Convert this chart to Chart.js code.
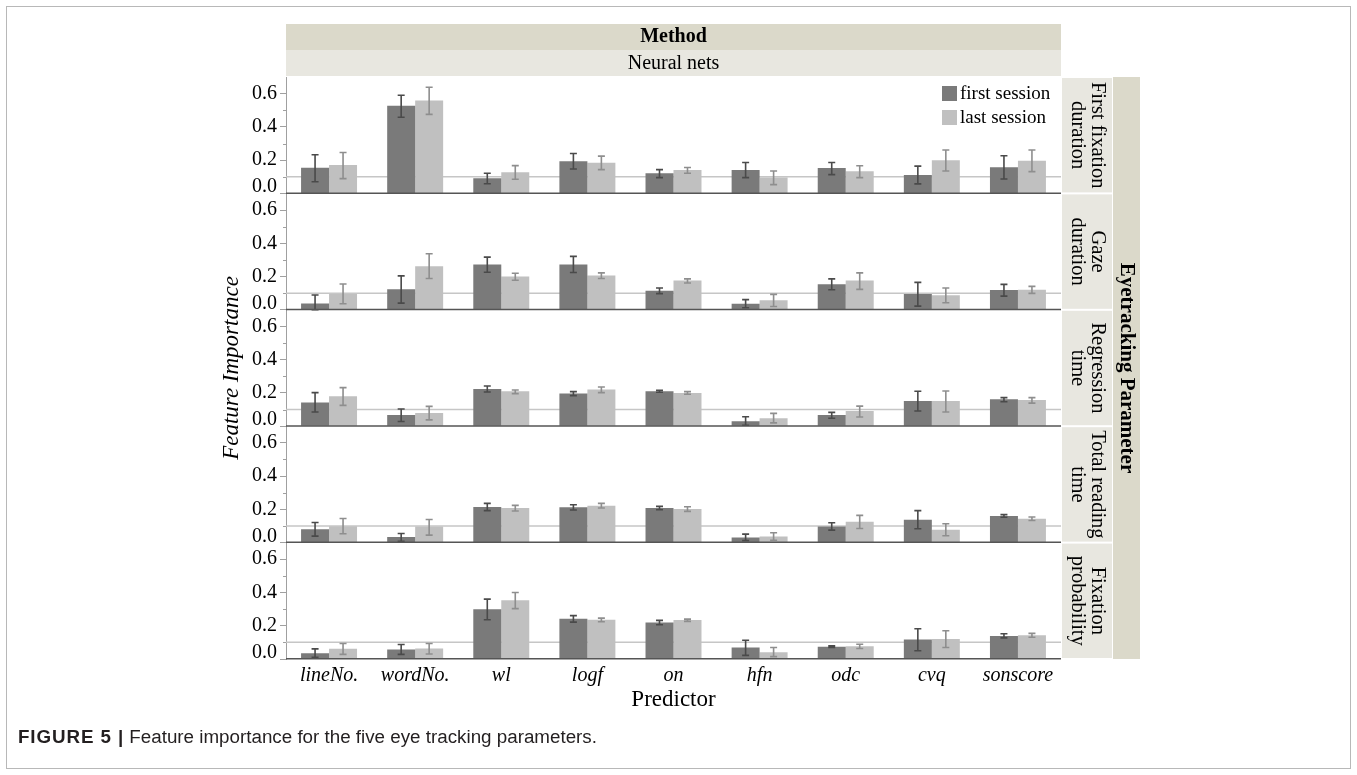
<!DOCTYPE html>
<html>
<head>
<meta charset="utf-8">
<script src="https://cdn.jsdelivr.net/npm/chart.js@4.4.1/dist/chart.umd.min.js"></script>
<style>
  html, body { margin: 0; padding: 0; background: #ffffff; }
  #wrap { position: relative; width: 1357px; height: 775px; overflow: hidden; }
  #frame { position: absolute; left: 6px; top: 6px; width: 1345px; height: 763px; border: 1px solid #b8b8b8; box-sizing: border-box; }
  #c { position: absolute; left: 0; top: 0; }
  #caption { position: absolute; left: 18px; top: 726px; font-family: "Liberation Sans", Arial, sans-serif; font-size: 18.8px; color: #231f20; white-space: nowrap; }
  #caption b { font-weight: bold; letter-spacing: 0.9px; }
</style>
</head>
<body>
<div id="wrap">
  <div id="frame"></div>
  <canvas id="c" width="1357" height="775"></canvas>
  <div id="caption"><b>FIGURE 5 |</b> Feature importance for the five eye tracking parameters.</div>
</div>
<script>
// Predictors on the x axis
const predictors = ['lineNo.', 'wordNo.', 'wl', 'logf', 'on', 'hfn', 'odc', 'cvq', 'sonscore'];
const sessions = ['first session', 'last session'];
const methodTitle = 'Method';
const methodName = 'Neural nets';
const facetTitle = 'Eyetracking Parameter';
const parameterStrips = [
  ['First fixation', 'duration'],
  ['Gaze', 'duration'],
  ['Regression', 'time'],
  ['Total reading', 'time'],
  ['Fixation', 'probability']
];
const yTicks = [0, 0.2, 0.4, 0.6];
const yMinorTicks = [0.1, 0.3, 0.5];
const yMax = 0.7;
const referenceLevel = 0.1;

// First fixation duration
const ffdFirst = [0.155, 0.527, 0.091, 0.194, 0.121, 0.141, 0.152, 0.111, 0.158];
const ffdFirstCI = [[0.070, 0.232], [0.458, 0.590], [0.058, 0.121], [0.147, 0.240], [0.095, 0.143], [0.095, 0.186], [0.113, 0.186], [0.057, 0.164], [0.087, 0.226]];
const ffdLast = [0.171, 0.559, 0.127, 0.184, 0.141, 0.095, 0.133, 0.200, 0.196];
const ffdLastCI = [[0.089, 0.246], [0.475, 0.638], [0.085, 0.167], [0.143, 0.224], [0.121, 0.156], [0.053, 0.135], [0.095, 0.166], [0.135, 0.261], [0.131, 0.261]];

// Gaze duration
const gdFirst = [0.038, 0.123, 0.273, 0.273, 0.115, 0.036, 0.153, 0.095, 0.119];
const gdFirstCI = [[0.000, 0.089], [0.040, 0.204], [0.226, 0.317], [0.224, 0.321], [0.097, 0.131], [0.012, 0.061], [0.121, 0.186], [0.022, 0.165], [0.082, 0.153]];
const gdLast = [0.095, 0.262, 0.200, 0.206, 0.176, 0.058, 0.176, 0.087, 0.121];
const gdLastCI = [[0.036, 0.155], [0.188, 0.337], [0.178, 0.220], [0.188, 0.222], [0.161, 0.186], [0.020, 0.093], [0.123, 0.222], [0.042, 0.131], [0.099, 0.141]];

// Regression time
const rtFirst = [0.143, 0.067, 0.224, 0.196, 0.210, 0.030, 0.067, 0.152, 0.162];
const rtFirstCI = [[0.085, 0.202], [0.028, 0.103], [0.206, 0.242], [0.184, 0.208], [0.204, 0.216], [0.006, 0.057], [0.048, 0.083], [0.091, 0.210], [0.147, 0.172]];
const rtLast = [0.180, 0.079, 0.210, 0.220, 0.200, 0.048, 0.091, 0.152, 0.158];
const rtLastCI = [[0.125, 0.232], [0.038, 0.119], [0.196, 0.218], [0.202, 0.236], [0.192, 0.208], [0.020, 0.077], [0.055, 0.121], [0.085, 0.212], [0.139, 0.172]];

// Total reading time
const trtFirst = [0.081, 0.033, 0.214, 0.212, 0.208, 0.030, 0.097, 0.138, 0.160];
const trtFirstCI = [[0.039, 0.121], [0.008, 0.055], [0.192, 0.236], [0.196, 0.228], [0.198, 0.218], [0.012, 0.051], [0.075, 0.119], [0.083, 0.192], [0.152, 0.168]];
const trtLast = [0.099, 0.097, 0.208, 0.222, 0.202, 0.036, 0.125, 0.077, 0.144];
const trtLastCI = [[0.053, 0.145], [0.045, 0.139], [0.190, 0.224], [0.208, 0.236], [0.188, 0.216], [0.014, 0.059], [0.085, 0.164], [0.041, 0.113], [0.133, 0.154]];

// Fixation probability
const fpFirst = [0.034, 0.057, 0.299, 0.242, 0.220, 0.069, 0.073, 0.117, 0.139];
const fpFirstCI = [[0.010, 0.061], [0.028, 0.087], [0.236, 0.360], [0.222, 0.261], [0.206, 0.232], [0.022, 0.113], [0.069, 0.079], [0.050, 0.182], [0.127, 0.152]];
const fpLast = [0.061, 0.063, 0.354, 0.236, 0.234, 0.040, 0.077, 0.121, 0.143];
const fpLastCI = [[0.028, 0.093], [0.030, 0.093], [0.303, 0.400], [0.224, 0.246], [0.226, 0.240], [0.014, 0.069], [0.063, 0.089], [0.069, 0.170], [0.131, 0.154]];

const panelSeries = [
  [ffdFirst, ffdFirstCI, ffdLast, ffdLastCI],
  [gdFirst, gdFirstCI, gdLast, gdLastCI],
  [rtFirst, rtFirstCI, rtLast, rtLastCI],
  [trtFirst, trtFirstCI, trtLast, trtLastCI],
  [fpFirst, fpFirstCI, fpLast, fpLastCI]
];

const SERIF = '"Liberation Serif", "Times New Roman", "DejaVu Serif", serif';
const FIRST_COLOR = '#7a7a7a';
const LAST_COLOR = '#c0c0c0';
const FIRST_ERR = '#4a4a4a';
const LAST_ERR = '#8e8e8e';
const AXIS_GRAY = '#a0a0a0';
const BAND_DARK = '#dbd9ca';
const BAND_LIGHT = '#e8e7e0';

// Two bar series per panel, each tied to that panel's own y scale
const datasets = [];
panelSeries.forEach(([first, firstCI, last, lastCI], i) => {
  datasets.push({
    label: sessions[0], data: first, yAxisID: 'y' + i, stack: 'first',
    backgroundColor: FIRST_COLOR, borderWidth: 0, ci: firstCI, errColor: FIRST_ERR
  });
  datasets.push({
    label: sessions[1], data: last, yAxisID: 'y' + i, stack: 'last',
    backgroundColor: LAST_COLOR, borderWidth: 0, ci: lastCI, errColor: LAST_ERR
  });
});

const scales = {
  x: {
    type: 'category',
    labels: predictors,
    offset: true,
    grid: { display: false, drawTicks: false, offset: true },
    border: { display: false },
    ticks: {
      color: '#000', padding: 5, maxRotation: 0, autoSkip: false,
      font: { family: SERIF, size: 20, style: 'italic' }
    },
    title: {
      display: true, text: 'Predictor', color: '#000',
      font: { family: SERIF, size: 23 }, padding: { top: 0, bottom: 0 }
    },
    afterFit(s) { s.height = 55; }
  }
};
parameterStrips.forEach((_, i) => {
  scales['y' + i] = {
    type: 'linear',
    position: 'left',
    stack: 'panels',
    stackWeight: 1,
    weight: parameterStrips.length - i,
    stacked: false,
    min: 0,
    max: yMax,
    afterBuildTicks(s) { s.ticks = yTicks.map(v => ({ value: v })); },
    ticks: {
      color: '#000', padding: 3, autoSkip: false,
      // the zero label sits just above the baseline
      callback: v => (v === 0 ? ['0.0', ''] : v.toFixed(1)),
      font: c => ({ family: SERIF, size: 20, lineHeight: (c.tick && c.tick.value === 0) ? 0.62 : 1.2 })
    },
    grid: { drawOnChartArea: false, tickLength: 6, tickColor: AXIS_GRAY, tickWidth: 1 },
    border: { display: true, color: AXIS_GRAY, width: 1 },
    afterFit(s) { s.width = 60; }
  };
});

function panelScales(chart) {
  return parameterStrips.map((_, i) => chart.scales['y' + i]);
}

function drawRotatedLines(ctx, lines, cx, cy, angle, font, lineH) {
  ctx.save();
  ctx.translate(cx, cy);
  ctx.rotate(angle);
  ctx.font = font;
  ctx.textAlign = 'center';
  ctx.textBaseline = 'middle';
  const n = lines.length;
  lines.forEach((t, k) => ctx.fillText(t, 0, (k - (n - 1) / 2) * lineH));
  ctx.restore();
}

// Facet decoration: header bands, row strips, reference lines, error bars, legend
const facetPlugin = {
  id: 'facetDecor',
  beforeDatasetsDraw(chart) {
    const { ctx, chartArea: ca } = chart;
    const w = ca.right - ca.left;
    const cx = (ca.left + ca.right) / 2;
    ctx.save();
    // column header bands
    ctx.fillStyle = BAND_DARK;
    ctx.fillRect(ca.left, ca.top - 53, w, 26);
    ctx.fillStyle = BAND_LIGHT;
    ctx.fillRect(ca.left, ca.top - 27, w, 26);
    ctx.fillStyle = '#000';
    ctx.textAlign = 'center';
    ctx.textBaseline = 'middle';
    ctx.font = 'bold 20px ' + SERIF;
    ctx.fillText(methodTitle, cx, ca.top - 40);
    ctx.font = '20px ' + SERIF;
    ctx.fillText(methodName, cx, ca.top - 13.5);

    // outer row strip
    ctx.fillStyle = BAND_DARK;
    ctx.fillRect(ca.right + 52, ca.top, 27, ca.bottom - ca.top);
    ctx.fillStyle = '#000';
    drawRotatedLines(ctx, [facetTitle], ca.right + 65.5, (ca.top + ca.bottom) / 2, Math.PI / 2, 'bold 21px ' + SERIF, 22);

    panelScales(chart).forEach((s, i) => {
      // inner row strip
      ctx.fillStyle = BAND_LIGHT;
      ctx.fillRect(ca.right + 1, s.top + 1, 50, s.bottom - s.top - 2);
      ctx.fillStyle = '#000';
      drawRotatedLines(ctx, parameterStrips[i], ca.right + 26, (s.top + s.bottom) / 2, Math.PI / 2, '20.5px ' + SERIF, 20);
      // reference line
      const yr = s.getPixelForValue(referenceLevel);
      ctx.strokeStyle = '#c6c6c6';
      ctx.lineWidth = 1.5;
      ctx.beginPath();
      ctx.moveTo(ca.left, yr);
      ctx.lineTo(ca.right, yr);
      ctx.stroke();
    });
    ctx.restore();
  },
  afterDatasetsDraw(chart) {
    const { ctx, chartArea: ca } = chart;
    ctx.save();
    // error bars
    chart.data.datasets.forEach((ds, d) => {
      const meta = chart.getDatasetMeta(d);
      const ys = chart.scales[ds.yAxisID];
      ctx.strokeStyle = ds.errColor;
      ctx.lineWidth = 1.6;
      meta.data.forEach((bar, j) => {
        const [lo, hi] = ds.ci[j];
        const yl = ys.getPixelForValue(lo);
        const yh = ys.getPixelForValue(hi);
        ctx.beginPath();
        ctx.moveTo(bar.x, yl); ctx.lineTo(bar.x, yh);
        ctx.moveTo(bar.x - 3.5, yl); ctx.lineTo(bar.x + 3.5, yl);
        ctx.moveTo(bar.x - 3.5, yh); ctx.lineTo(bar.x + 3.5, yh);
        ctx.stroke();
      });
    });
    panelScales(chart).forEach((s) => {
      // panel baseline
      ctx.strokeStyle = '#555555';
      ctx.lineWidth = 1.5;
      ctx.beginPath();
      ctx.moveTo(ca.left, s.bottom - 0.25);
      ctx.lineTo(ca.right, s.bottom - 0.25);
      ctx.stroke();
      // minor ticks
      ctx.strokeStyle = AXIS_GRAY;
      ctx.lineWidth = 1;
      yMinorTicks.forEach(v => {
        const y = Math.round(s.getPixelForValue(v)) + 0.5;
        ctx.beginPath();
        ctx.moveTo(ca.left - 3, y);
        ctx.lineTo(ca.left, y);
        ctx.stroke();
      });
    });
    // legend
    const lx = ca.right - 119;
    [[FIRST_COLOR, sessions[0]], [LAST_COLOR, sessions[1]]].forEach(([col, txt], k) => {
      const ly = ca.top + 9 + k * 24;
      ctx.fillStyle = col;
      ctx.fillRect(lx, ly, 15, 15);
      ctx.fillStyle = '#000';
      ctx.font = '19px ' + SERIF;
      ctx.textAlign = 'left';
      ctx.textBaseline = 'middle';
      ctx.fillText(txt, lx + 18, ly + 8);
    });
    // y axis title
    drawRotatedLines(ctx, ['Feature Importance'], 232, (ca.top + ca.bottom) / 2, -Math.PI / 2, 'italic 23px ' + SERIF, 23);
    ctx.restore();
  }
};

new Chart(document.getElementById('c'), {
  type: 'bar',
  data: { labels: predictors, datasets },
  options: {
    responsive: false,
    animation: false,
    devicePixelRatio: 1,
    categoryPercentage: 0.65,
    barPercentage: 1.0,
    layout: { padding: { left: 226, right: 296, top: 77, bottom: 61 } },
    plugins: { legend: { display: false }, tooltip: { enabled: false }, title: { display: false } },
    scales
  },
  plugins: [facetPlugin]
});
</script>
</body>
</html>
